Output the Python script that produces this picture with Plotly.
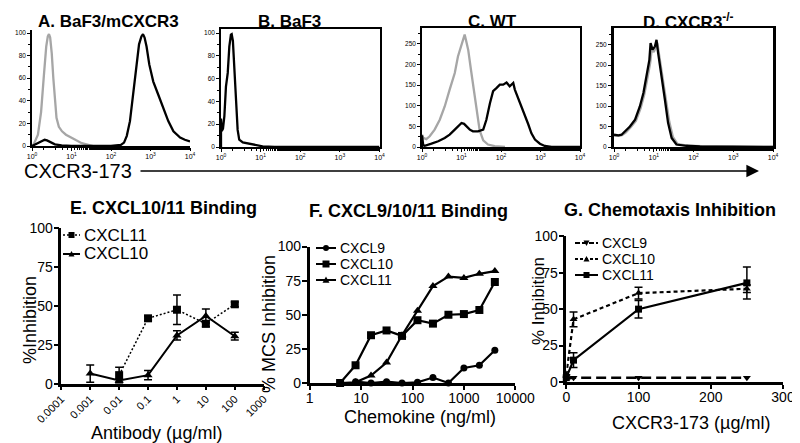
import numpy as np
import plotly.graph_objects as go

W, H = 800, 443

# ---------------- data ----------------
# Flow histograms: x in log10 decades of fluorescence, y = cell counts
A_grey_log = [0.0, 0.05, 0.15, 0.23, 0.30, 0.36, 0.40, 0.43, 0.46, 0.50, 0.54, 0.58, 0.62, 0.68, 0.76, 0.86, 0.98, 1.12, 1.26, 1.40, 1.55]
A_grey_cnt = [0, 2, 10, 30, 62, 88, 97, 99, 96, 82, 60, 38, 25, 17, 13, 10, 7.5, 5, 2.5, 1, 0]
A_black_log = [0.0, 0.10, 0.22, 0.32, 0.38, 0.46, 0.58, 0.75, 1.0, 2.0, 2.25, 2.33, 2.40, 2.48, 2.56, 2.64, 2.71, 2.77, 2.81, 2.85, 2.90, 2.97, 3.07, 3.19, 3.32, 3.45, 3.58, 3.75, 3.87, 4.0]
A_black_cnt = [0, 1.5, 4, 5.5, 5, 3.5, 1.5, 0.5, 0, 0, 1, 3, 9, 22, 45, 70, 90, 97, 99, 96, 88, 72, 57, 46, 33, 22, 13, 7.5, 5.5, 4]

B_black_log = [0.0, 0.0, 0.02, 0.05, 0.085, 0.125, 0.17, 0.21, 0.25, 0.27, 0.30, 0.34, 0.38, 0.42, 0.46, 0.55, 0.72, 0.88, 1.05, 1.35, 4.0]
B_black_cnt = [0, 25, 14, 16, 27, 53, 65, 88, 98.5, 99, 93, 71, 41, 15, 6.5, 4, 3, 1.8, 0.6, 0, 0]

C_grey_log = [0.0, 0.0, 0.03, 0.11, 0.195, 0.32, 0.45, 0.575, 0.70, 0.83, 0.91, 1.0, 1.04, 1.08, 1.12, 1.17, 1.235, 1.29, 1.38, 1.46, 1.55, 1.67, 1.84, 2.1]
C_grey_cnt = [0, 30, 22, 19, 26, 42, 66, 98, 139, 179, 219, 248, 260, 272, 256, 235, 190, 150, 90, 40, 16, 6, 2, 0]
C_black_log = [0.0, 0.0, 0.03, 0.07, 0.24, 0.41, 0.575, 0.70, 0.83, 0.91, 1.0, 1.065, 1.125, 1.21, 1.29, 1.42, 1.55, 1.63, 1.72, 1.80, 1.89, 1.97, 2.055, 2.14, 2.22, 2.31, 2.35, 2.435, 2.52, 2.60, 2.69, 2.77, 2.86, 2.985, 3.11, 3.28, 4.0]
C_black_cnt = [0, 28, 5, 3, 8, 14, 22, 30, 42, 50, 58, 56, 50, 42, 38, 38, 42, 66, 106, 135, 143, 151, 151, 156, 147, 155, 139, 118, 100, 80, 55, 33, 18, 8, 2.5, 0, 0]

D_grey_log = [0.0, 0.12, 0.20, 0.30, 0.42, 0.55, 0.67, 0.76, 0.84, 0.91, 0.95, 1.00, 1.05, 1.09, 1.13, 1.22, 1.30, 1.39, 1.48, 1.60, 1.85, 2.2, 2.9, 4.0]
D_grey_cnt = [28, 27, 29, 36, 48, 64, 95, 128, 168, 205, 240, 232, 243, 255, 228, 172, 118, 62, 25, 7, 3.5, 2, 1, 0]
D_black_log = [0.0, 0.11, 0.19, 0.28, 0.40, 0.53, 0.65, 0.74, 0.82, 0.89, 0.92, 0.97, 1.03, 1.07, 1.11, 1.20, 1.28, 1.36, 1.45, 1.57, 1.82, 2.16, 2.83, 4.0]
D_black_cnt = [30, 28.5, 30, 38, 50, 67, 99, 132, 173, 213, 254, 238, 246, 262, 230, 173, 116, 59, 22, 6, 3, 1.6, 1, 0]

flow_xtick_vals = [1, 10, 100, 1000, 10000]
flow_xtick_text = ["10<sup>0</sup>", "10<sup>1</sup>", "10<sup>2</sup>", "10<sup>3</sup>", "10<sup>4</sup>"]
flow_ytick_small = [0, 20, 40, 60, 80, 100]
flow_ytick_large = [0, 50, 100, 150, 200, 250]

# E. CXCL10/11 Binding
E_x11 = [0.01, 0.1, 1, 10, 100]
E_y11 = [5.5, 42, 47.5, 38.5, 51]
E_e11 = [5, 1.5, 9.5, 2, 1.5]
E_x10 = [0.001, 0.01, 0.1, 1, 10, 100]
E_y10 = [6.5, 2, 5.5, 31, 43.5, 30.5]
E_e10 = [5.5, 1, 3, 3, 4.5, 2.5]
E_xtick_vals = [0.0001, 0.001, 0.01, 0.1, 1, 10, 100, 1000]
E_xtick_text = ["0.0001", "0.001", "0.01", "0.1", "1", "10", "100", "1000"]

# F. CXCL9/10/11 Binding
F_conc = [3.9, 7.8, 15.6, 31.25, 62.5, 125, 250, 500, 1000, 2000, 4000]
F_conc9 = [7.8, 15.6, 31.25, 62.5, 125, 250, 500, 1000, 2000, 4000]
F_cxcl9 = [1, 0, 1, 0, 0.5, 4, 0, 11, 13, 24]
F_cxcl10 = [0, 13, 35, 38.5, 34.5, 46, 43.5, 50, 50.5, 53.5, 74]
F_cxcl11 = [0, 0.5, 5.5, 15, 35, 53, 71, 78, 77, 80, 82]
F_xtick_vals = [1, 10, 100, 1000, 10000]
F_xtick_text = ["1", "10", "100", "1000", "10000"]

# G. Chemotaxis Inhibition
G_x = [0, 10, 100, 250]
G_cxcl9 = [2, 3, 3, 3]
G_cxcl10 = [5, 43, 61, 64]
G_e10 = [0, 5, 4, 2.5]
G_cxcl11 = [3, 15, 50, 68]
G_e11 = [0, 5, 6, 11]

pct_ticks = [0, 25, 50, 75, 100]

# ---------------- helpers (layout only) ----------------
def xd(p0, p1):
    return [p0 / W, p1 / W]

def yd(top, bot):
    return [1 - bot / H, 1 - top / H]

def rng(lo_px, hi_px, va, pa, vb, pb):
    s = (vb - va) / (pb - pa)
    return [va + (lo_px - pa) * s, va + (hi_px - pa) * s]

FONT = "Liberation Sans, Arial, sans-serif"
fig = go.Figure()

# ---------------- flow panels ----------------
flow = [
    (1, (24, 182), (22, 138), (0, 138, 100, 25), flow_ytick_small,
     [(A_grey_log, A_grey_cnt, "#a6a6a6"), (A_black_log, A_black_cnt, "black")], False),
    (2, (213, 371.5), (21, 139), (0, 139, 100, 25), flow_ytick_small,
     [(B_black_log, B_black_cnt, "black")], True),
    (3, (414, 572), (20, 139), (0, 139, 250, 35.7), flow_ytick_large,
     [(C_grey_log, C_grey_cnt, "#a6a6a6"), (C_black_log, C_black_cnt, "black")], True),
    (4, (606, 765), (20, 139), (0, 139, 250, 36.7), flow_ytick_large,
     [(D_grey_log, D_grey_cnt, "#a6a6a6"), (D_black_log, D_black_cnt, "black")], True),
]
for idx, xp, yp, yref, yt, trs, box in flow:
    sfx = "" if idx == 1 else str(idx)
    for lg, cnt, col in trs:
        fig.add_trace(go.Scatter(x=np.power(10.0, np.array(lg)), y=cnt, mode="lines",
                                 line=dict(color=col, width=2.3), showlegend=False,
                                 xaxis="x" + sfx, yaxis="y" + sfx, hoverinfo="skip"))
    fig.update_layout(**{
        "xaxis" + sfx: dict(domain=xd(*xp), type="log", range=[0, 4], anchor="y" + sfx,
                            tickmode="array", tickvals=flow_xtick_vals, ticktext=flow_xtick_text,
                            tickfont=dict(size=7, family=FONT, color="black"),
                            showline=True, linecolor="black", linewidth=1.5, mirror=box,
                            ticks="outside", ticklen=3, tickwidth=1, tickcolor="black",
                            minor=dict(ticks="outside", ticklen=2, tickwidth=1, tickcolor="black"),
                            showgrid=False, zeroline=False, fixedrange=True, automargin=False),
        "yaxis" + sfx: dict(domain=yd(*yp), range=rng(yp[1], yp[0], *yref), anchor="x" + sfx,
                            tickmode="array", tickvals=yt,
                            tickfont=dict(size=6.5, family=FONT, color="black"),
                            showline=True, linecolor="black",
                            linewidth=3 if idx == 4 else 1.5, mirror=box,
                            ticks="outside", ticklen=3, tickwidth=1, tickcolor="black",
                            minor=dict(ticks="outside", ticklen=2, tickwidth=1, tickcolor="black",
                                       dtick=10 if yt[-1] == 100 else 25),
                            showgrid=False, zeroline=False, fixedrange=True, automargin=False),
    })

# ---------------- E ----------------
fig.add_trace(go.Scatter(x=E_x11, y=E_y11, mode="lines+markers", xaxis="x5", yaxis="y5",
                         line=dict(color="black", width=1.5, dash="2px,2px"),
                         marker=dict(symbol="square", size=8, color="black"),
                         error_y=dict(type="data", array=E_e11, color="black", thickness=1.5, width=4),
                         showlegend=False, cliponaxis=False))
fig.add_trace(go.Scatter(x=E_x10, y=E_y10, mode="lines+markers", xaxis="x5", yaxis="y5",
                         line=dict(color="black", width=2),
                         marker=dict(symbol="triangle-up", size=8, color="black"),
                         error_y=dict(type="data", array=E_e10, color="black", thickness=1.5, width=4),
                         showlegend=False, cliponaxis=False))

# ---------------- F ----------------
fig.add_trace(go.Scatter(x=F_conc9, y=F_cxcl9, mode="lines+markers", xaxis="x6", yaxis="y6",
                         line=dict(color="black", width=2.2),
                         marker=dict(symbol="circle", size=7, color="black"),
                         showlegend=False, cliponaxis=False))
fig.add_trace(go.Scatter(x=F_conc, y=F_cxcl10, mode="lines+markers", xaxis="x6", yaxis="y6",
                         line=dict(color="black", width=2.2),
                         marker=dict(symbol="square", size=8, color="black"),
                         showlegend=False, cliponaxis=False))
fig.add_trace(go.Scatter(x=F_conc, y=F_cxcl11, mode="lines+markers", xaxis="x6", yaxis="y6",
                         line=dict(color="black", width=2.2),
                         marker=dict(symbol="triangle-up", size=8, color="black"),
                         showlegend=False, cliponaxis=False))

# ---------------- G ----------------
fig.add_trace(go.Scatter(x=G_x, y=G_cxcl9, mode="lines+markers", xaxis="x7", yaxis="y7",
                         line=dict(color="black", width=2.5, dash="10px,5px"),
                         marker=dict(symbol="triangle-down", size=7, color="black"),
                         showlegend=False, cliponaxis=False))
fig.add_trace(go.Scatter(x=G_x, y=G_cxcl10, mode="lines+markers", xaxis="x7", yaxis="y7",
                         line=dict(color="black", width=2.2, dash="4px,3px"),
                         marker=dict(symbol="triangle-up", size=7, color="black"),
                         error_y=dict(type="data", array=G_e10, color="black", thickness=1.5, width=4),
                         showlegend=False, cliponaxis=False))
fig.add_trace(go.Scatter(x=G_x, y=G_cxcl11, mode="lines+markers", xaxis="x7", yaxis="y7",
                         line=dict(color="black", width=2.2),
                         marker=dict(symbol="square", size=7, color="black"),
                         error_y=dict(type="data", array=G_e11, color="black", thickness=1.5, width=4),
                         showlegend=False, cliponaxis=False))

def bottom_axes(xp, yp, xtype, xrange, xticks, xtext, xangle, xfs, ysfx, xstand):
    common = dict(showline=True, linecolor="black", linewidth=2.5, ticks="outside",
                  tickwidth=2, tickcolor="black", showgrid=False,
                  zeroline=False, fixedrange=True, automargin=False)
    xa = dict(domain=xd(*xp), type=xtype, range=xrange, anchor="y" + ysfx, ticklen=4,
              tickmode="array", tickvals=xticks, ticktext=xtext, tickangle=xangle,
              ticklabelstandoff=xstand,
              tickfont=dict(size=xfs, family=FONT, color="black"), **common)
    ya = dict(domain=yd(*yp), range=[0, 100], anchor="x" + ysfx, tickmode="array", ticklen=5,
              ticklabelstandoff=-2,
              tickvals=pct_ticks, tickfont=dict(size=14, family=FONT, color="black"), **common)
    return xa, ya

xa, ya = bottom_axes((53.3, 255.7), (220, 375.7), "log", [-4, 3], E_xtick_vals, E_xtick_text, -45, 11, "5", -2)
fig.update_layout(xaxis5=xa, yaxis5=ya)
xa, ya = bottom_axes((301.7, 507.3), (238.5, 375), "log", [0, 4], F_xtick_vals, F_xtick_text, 0, 14, "6", -4)
fig.update_layout(xaxis6=xa, yaxis6=ya)
xa, ya = bottom_axes((558.3, 775), (228.3, 374), "linear", [0, 300], [0, 100, 200, 300],
                     ["0", "100", "200", "300"], 0, 14, "7", -4)
fig.update_layout(xaxis7=xa, yaxis7=ya)

# ---------------- annotations / shapes ----------------
ann = []
shapes = []

def text(x, y, s, size, bold=False, anchor="center", angle=0):
    ann.append(dict(x=x / W, y=1 - y / H, xref="paper", yref="paper", text=("<b>%s</b>" % s) if bold else s,
                    showarrow=False, xanchor=anchor, yanchor="middle", textangle=angle,
                    font=dict(size=size, family=FONT, color="black")))

# panel titles
text(100, 13, "A. BaF3/mCXCR3", 17, True)
text(281, 13, "B. BaF3", 17, True)
text(485, 13, "C. WT", 17, True)
text(680, 13, "D. CXCR3<sup>-/-</sup>", 17, True)
text(155, 200, "E. CXCL10/11 Binding", 18, True)
text(400, 203, "F. CXCL9/10/11 Binding", 18, True)
text(662, 202, "G. Chemotaxis Inhibition", 18, True)

# axis titles
text(126, 163, "CXCR3-173", 20, anchor="right")
text(148, 425, "Antibody (µg/ml)", 18)
text(412, 409, "Chemokine (ng/ml)", 18)
text(683, 415, "CXCR3-173 (µg/ml)", 18)
text(22, 312, "%Inhibition", 18, angle=-90)
text(261, 316, "% MCS Inhibition", 18, angle=-90)
text(530, 293, "% Inhibition", 17, angle=-90)

# arrow
ann.append(dict(x=751 / W, y=1 - 163 / H, xref="paper", yref="paper", ax=-(751 - 131), ay=0,
                text="", showarrow=True, arrowhead=2, arrowsize=1.8, arrowwidth=1.4,
                arrowcolor="black", standoff=0))

def legend_key(cx, cy, half, dash, symbol, msize, label, fsize, width=2.0):
    shapes.append(dict(type="line", xref="paper", yref="paper",
                       x0=(cx - half) / W, x1=(cx + half) / W, y0=1 - cy / H, y1=1 - cy / H,
                       line=dict(color="black", width=width, dash=dash)))
    s = msize / 2.0
    if symbol == "square":
        shapes.append(dict(type="rect", xref="paper", yref="paper",
                           x0=(cx - s) / W, x1=(cx + s) / W, y0=1 - (cy + s) / H, y1=1 - (cy - s) / H,
                           fillcolor="black", line=dict(width=0)))
    elif symbol == "circle":
        shapes.append(dict(type="circle", xref="paper", yref="paper",
                           x0=(cx - s) / W, x1=(cx + s) / W, y0=1 - (cy + s) / H, y1=1 - (cy - s) / H,
                           fillcolor="black", line=dict(width=0)))
    else:
        if symbol == "tri-up":
            pts = [(cx - s, cy + s * 0.8), (cx + s, cy + s * 0.8), (cx, cy - s)]
        else:
            pts = [(cx - s, cy - s * 0.8), (cx + s, cy - s * 0.8), (cx, cy + s)]
        path = "M " + " L ".join("%f,%f" % (px / W, 1 - py / H) for px, py in pts) + " Z"
        shapes.append(dict(type="path", xref="paper", yref="paper", path=path,
                           fillcolor="black", line=dict(width=0)))
    text(cx + half + 2, cy, label, fsize, anchor="left")

# E legend
legend_key(63.5, 227, 8.5, "2px,2px", "square", 6, "CXCL11", 17, width=1.5)
legend_key(63.5, 246, 8.5, "solid", "tri-up", 6, "CXCL10", 17)
# F legend
legend_key(318, 240, 10, "solid", "circle", 6, "CXCL9", 14)
legend_key(318, 256, 10, "solid", "square", 7, "CXCL10", 14)
legend_key(318, 272, 10, "solid", "tri-up", 7, "CXCL11", 14)
# G legend
legend_key(578.5, 235, 11.5, "5px,2px", "tri-down", 6, "CXCL9", 14)
legend_key(578.5, 251, 11.5, "3px,2px", "tri-up", 6, "CXCL10", 14)
legend_key(578.5, 267, 11.5, "solid", "square", 6, "CXCL11", 14)

# faint separator near bottom
shapes.append(dict(type="line", xref="paper", yref="paper", x0=0, x1=1, y0=1 - 436 / H, y1=1 - 436 / H,
                   line=dict(color="#b0b0b0", width=1)))

fig.update_layout(width=W, height=H, margin=dict(l=0, r=0, t=0, b=0, autoexpand=False),
                  paper_bgcolor="white", plot_bgcolor="white",
                  font=dict(family=FONT, color="black"),
                  annotations=ann, shapes=shapes, showlegend=False)

fig.write_html("out.html")
